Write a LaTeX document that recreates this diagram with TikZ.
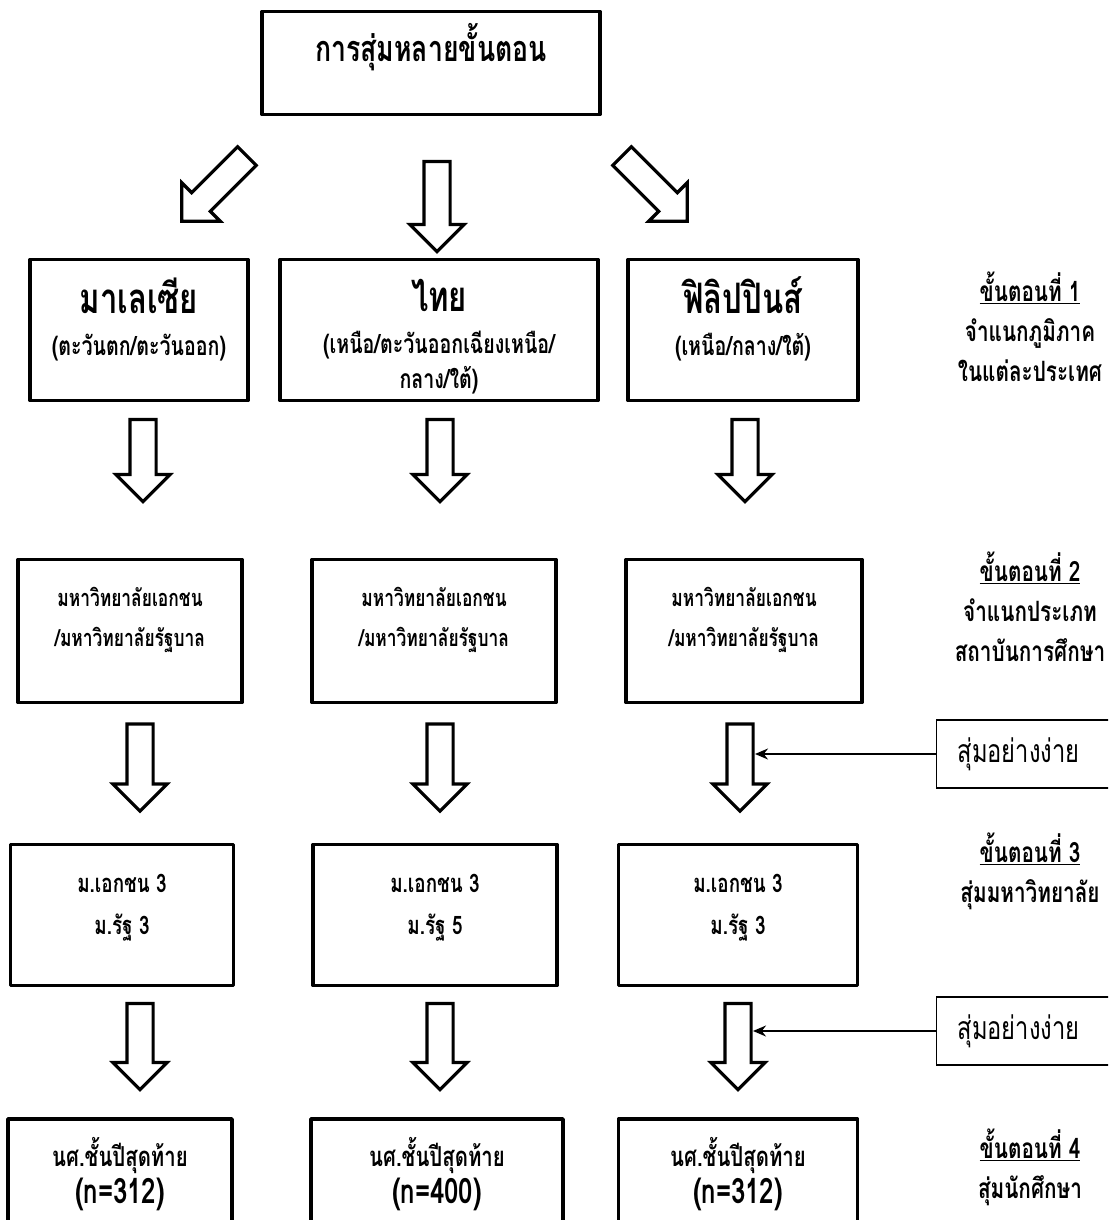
\documentclass[tikz,border=0pt]{standalone}
\usepackage{fontspec}
\setmainfont[Script=Thai,FakeStretch=0.74]{Loma}
\usetikzlibrary{arrows.meta,positioning,calc,shapes.arrows}
\tikzset{
  box/.style={draw,rectangle,line width=3.5pt,line join=round,align=center,inner sep=0pt,fill=white},
  topbox/.style={box,minimum width=338pt,minimum height=103pt,font=\bfseries\fontsize{36}{40}\selectfont},
  cntbox/.style={box,minimum height=141pt,font=\bfseries\fontsize{26.5}{35}\selectfont},
  unibox/.style={box,minimum height=143pt,font=\bfseries\fontsize{23.5}{40}\selectfont},
  selbox/.style={box,minimum height=141pt,font=\bfseries\fontsize{25.5}{42}\selectfont},
  stdbox/.style={box,minimum height=140pt,font=\bfseries\fontsize{27.5}{37}\selectfont},
  pickbox/.style={draw,rectangle,line width=1.2pt,minimum height=68pt,inner xsep=21pt,
    text width=163pt,align=left,anchor=west,font=\fontsize{32}{34}\selectfont},
  steplbl/.style={align=center,font=\bfseries\fontsize{28}{40}\selectfont},
  blkarr/.style={single arrow,draw,line width=3.2pt,line join=miter,fill=white,minimum width=51pt,
    single arrow head extend=14pt,single arrow tip angle=90,inner xsep=0pt,inner ysep=11.5pt,
    minimum height=#1},
  sidearr/.style={-{Stealth[length=13pt,width=11pt]},line width=1.8pt}
}
\newcommand{\cname}[1]{{\fontsize{42}{44}\selectfont #1}}
\newcommand{\nsize}[1]{{\fontsize{35}{37}\selectfont #1}}

\begin{document}
\begin{tikzpicture}[x=1pt,y=-1pt]
  \clip (0,0) rectangle (1108,1220);
  \fill[white] (0,0) rectangle (1108,1220);

  % top
  \node[topbox] (title) at (431,63) {การสุ่มหลายขั้นตอน\\[1pt]\ };
  \node[blkarr=92pt,rotate=-135] (a0l) at (219,184) {};
  \node[blkarr=90pt,rotate=-90] (a0m) at (437,200) {};
  \node[blkarr=92pt,rotate=-45] (a0r) at (650,184) {};

  % step 1: countries
  \node[cntbox,minimum width=218pt] (mal) at (139,330)
    {\cname{มาเลเซีย}\\[7pt](ตะวันตก/ตะวันออก)\\[-8pt]\ };
  \node[cntbox,minimum width=318pt] (tha) at (439,330)
    {\cname{ไทย}\\[7pt](เหนือ/ตะวันออกเฉียงเหนือ/\\กลาง/ใต้)\\[-43pt]\ };
  \node[cntbox,minimum width=230pt] (phi) at (743,330)
    {\cname{ฟิลิปปินส์}\\[7pt](เหนือ/กลาง/ใต้)\\[-8pt]\ };

  \node[blkarr=82pt,rotate=-90] (a1l) at (143,454) {};
  \node[blkarr=82pt,rotate=-90] (a1m) at (440,454) {};
  \node[blkarr=82pt,rotate=-90] (a1r) at (745,454) {};

  % step 2: type of institution
  \node[unibox,minimum width=224pt] (uni1) at (130,631) {มหาวิทยาลัยเอกชน\\/มหาวิทยาลัยรัฐบาล\\[-12pt]\ };
  \node[unibox,minimum width=244pt] (uni2) at (434,631) {มหาวิทยาลัยเอกชน\\/มหาวิทยาลัยรัฐบาล\\[-12pt]\ };
  \node[unibox,minimum width=236pt] (uni3) at (744,631) {มหาวิทยาลัยเอกชน\\/มหาวิทยาลัยรัฐบาล\\[-12pt]\ };

  \node[blkarr=87pt,rotate=-90] (a2l) at (140,761) {};
  \node[blkarr=87pt,rotate=-90] (a2m) at (440,761) {};
  \node[blkarr=87pt,rotate=-90] (a2r) at (740,761) {};

  \node[pickbox] (pick1) at (936,754) {สุ่มอย่างง่าย};
  \coordinate (hit1) at (755,754);
  \draw[sidearr] (pick1.west) -- (hit1);

  % step 3: universities
  \node[selbox,minimum width=223pt] (sel1) at (122,915) {ม.เอกชน 3\\ม.รัฐ 3\\[-20pt]\ };
  \node[selbox,minimum width=244pt] (sel2) at (435,915) {ม.เอกชน 3\\ม.รัฐ 5\\[-20pt]\ };
  \node[selbox,minimum width=239pt] (sel3) at (738,915) {ม.เอกชน 3\\ม.รัฐ 3\\[-20pt]\ };

  \node[blkarr=86pt,rotate=-90] (a3l) at (140,1040) {};
  \node[blkarr=86pt,rotate=-90] (a3m) at (440,1040) {};
  \node[blkarr=86pt,rotate=-90] (a3r) at (738,1040) {};

  \node[pickbox] (pick2) at (936,1031) {สุ่มอย่างง่าย};
  \coordinate (hit2) at (753,1031);
  \draw[sidearr] (pick2.west) -- (hit2);

  % step 4: students
  \node[stdbox,minimum width=224pt] (stu1) at (120,1189) {นศ.ชั้นปีสุดท้าย\\\nsize{(n=312)}\\ \ };
  \node[stdbox,minimum width=252pt] (stu2) at (437,1189) {นศ.ชั้นปีสุดท้าย\\\nsize{(n=400)}\\ \ };
  \node[stdbox,minimum width=239pt] (stu3) at (738,1189) {นศ.ชั้นปีสุดท้าย\\\nsize{(n=312)}\\ \ };

  % step labels on the right
  \node[steplbl] (step1) at (1030,327) {\underline{ขั้นตอนที่ 1}\\จำแนกภูมิภาค\\ในแต่ละประเทศ};
  \node[steplbl] (step2) at (1030,607) {\underline{ขั้นตอนที่ 2}\\จำแนกประเภท\\สถาบันการศึกษา};
  \node[steplbl] (step3) at (1030,871) {\underline{ขั้นตอนที่ 3}\\สุ่มมหาวิทยาลัย};
  \node[steplbl] (step4) at (1030,1167) {\underline{ขั้นตอนที่ 4}\\สุ่มนักศึกษา};
\end{tikzpicture}
\end{document}
